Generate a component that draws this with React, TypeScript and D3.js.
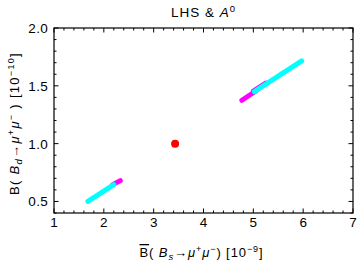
import * as d3 from "d3"

// bands: start / end points of each stroke
const cyanBands = [
  { x1: 1.68, y1: 0.5, x2: 2.2, y2: 0.645 },
  { x1: 5.02, y1: 1.45, x2: 5.97, y2: 1.715 },
]
const magentaBands = [
  { x1: 2.18, y1: 0.645, x2: 2.33, y2: 0.68 },
  { x1: 4.77, y1: 1.375, x2: 5.05, y2: 1.455 },
  { x1: 5.0, y1: 1.455, x2: 5.25, y2: 1.523 },
]
const smPoint = { x: 3.43, y: 1.0 }

const xTicks = [1, 2, 3, 4, 5, 6, 7]
const yTicks = [0.5, 1.0, 1.5, 2.0]

export default function App() {
  const W = 360
  const H = 263
  const m = { left: 54, right: 7, top: 28, bottom: 50 }

  const x = d3.scaleLinear().domain([1, 7]).range([m.left, W - m.right])
  const y = d3.scaleLinear().domain([0.4, 2.0]).range([H - m.bottom, m.top])

  const xMinor = d3.range(1, 7.001, 0.2).filter((v) => Math.abs(v - Math.round(v)) > 0.01)
  const yMinor = d3.range(0.4, 2.001, 0.1).filter((v) => Math.abs(v * 2 - Math.round(v * 2)) > 0.01)

  const font = "'Liberation Sans', Arial, sans-serif"
  const x0 = m.left
  const x1 = W - m.right
  const y0 = H - m.bottom
  const y1 = m.top

  return (
    <svg width={W} height={H} style={{ position: "absolute", left: 0, top: 0 }} fontFamily={font}>
      <rect width={W} height={H} fill="#fff" />

      <text x={(x0 + x1) / 2} y={17} textAnchor="middle" fontSize={13.5} letterSpacing={1}>
        LHS &amp; <tspan fontStyle="italic">A</tspan>
        <tspan dy={-5} fontSize={9.5}>0</tspan>
      </text>

      {/* bands */}
      {magentaBands.map((b, i) => (
        <line key={"m" + i} x1={x(b.x1)} y1={y(b.y1)} x2={x(b.x2)} y2={y(b.y2)}
          stroke="#ff00ff" strokeWidth={5} strokeLinecap="round" />
      ))}
      {cyanBands.map((b, i) => (
        <line key={"c" + i} x1={x(b.x1)} y1={y(b.y1)} x2={x(b.x2)} y2={y(b.y2)}
          stroke="#00ffff" strokeWidth={5} strokeLinecap="round" />
      ))}
      <circle cx={x(smPoint.x)} cy={y(smPoint.y)} r={4} fill="#ff0000" />

      {/* frame */}
      <rect x={x0} y={y1} width={x1 - x0} height={y0 - y1} fill="none" stroke="#000" strokeWidth={1.2} />

      {xTicks.map((t) => (
        <g key={"xt" + t}>
          <line x1={x(t)} x2={x(t)} y1={y0} y2={y0 - 4.5} stroke="#000" />
          <line x1={x(t)} x2={x(t)} y1={y1} y2={y1 + 4.5} stroke="#000" />
          <text x={x(t)} y={227} textAnchor="middle" fontSize={13.5}>{t}</text>
        </g>
      ))}
      {xMinor.map((t, i) => (
        <g key={"xm" + i}>
          <line x1={x(t)} x2={x(t)} y1={y0} y2={y0 - 2.5} stroke="#000" />
          <line x1={x(t)} x2={x(t)} y1={y1} y2={y1 + 2.5} stroke="#000" />
        </g>
      ))}
      {yTicks.map((t) => (
        <g key={"yt" + t}>
          <line x1={x0} x2={x0 + 4.5} y1={y(t)} y2={y(t)} stroke="#000" />
          <line x1={x1} x2={x1 - 4.5} y1={y(t)} y2={y(t)} stroke="#000" />
          <text x={48} y={y(t) + 5} textAnchor="end" fontSize={13.5} letterSpacing={0.3}>{t.toFixed(1)}</text>
        </g>
      ))}
      {yMinor.map((t, i) => (
        <g key={"ym" + i}>
          <line x1={x0} x2={x0 + 2.5} y1={y(t)} y2={y(t)} stroke="#000" />
          <line x1={x1} x2={x1 - 2.5} y1={y(t)} y2={y(t)} stroke="#000" />
        </g>
      ))}

      {/* x label */}
      <text x={(x0 + x1) / 2 - 2} y={257} textAnchor="middle" fontSize={13} letterSpacing={0.9}>
        <tspan textDecoration="overline">B</tspan>( <tspan fontStyle="italic">B</tspan>
        <tspan dy={3} fontSize={9.5} fontStyle="italic">s</tspan>
        <tspan dy={-3}>→</tspan><tspan fontStyle="italic">μ</tspan>
        <tspan dy={-5} fontSize={9}>+</tspan>
        <tspan dy={5} fontStyle="italic">μ</tspan>
        <tspan dy={-5} fontSize={9}>−</tspan>
        <tspan dy={5}>)  [10</tspan>
        <tspan dy={-5} fontSize={9}>−9</tspan>
        <tspan dy={5}>]</tspan>
      </text>

      {/* y label */}
      <text transform={`translate(19,${(y0 + y1) / 2 + 3}) rotate(-90)`} textAnchor="middle" fontSize={13} letterSpacing={1.3}>
        B( <tspan fontStyle="italic">B</tspan>
        <tspan dy={3} fontSize={9.5} fontStyle="italic">d</tspan>
        <tspan dy={-3}>→</tspan><tspan fontStyle="italic">μ</tspan>
        <tspan dy={-5} fontSize={9}>+</tspan>
        <tspan dy={5} fontStyle="italic">μ</tspan>
        <tspan dy={-5} fontSize={9}>−</tspan>
        <tspan dy={5}> )  [10</tspan>
        <tspan dy={-5} fontSize={9}>−10</tspan>
        <tspan dy={5}>]</tspan>
      </text>
    </svg>
  )
}
